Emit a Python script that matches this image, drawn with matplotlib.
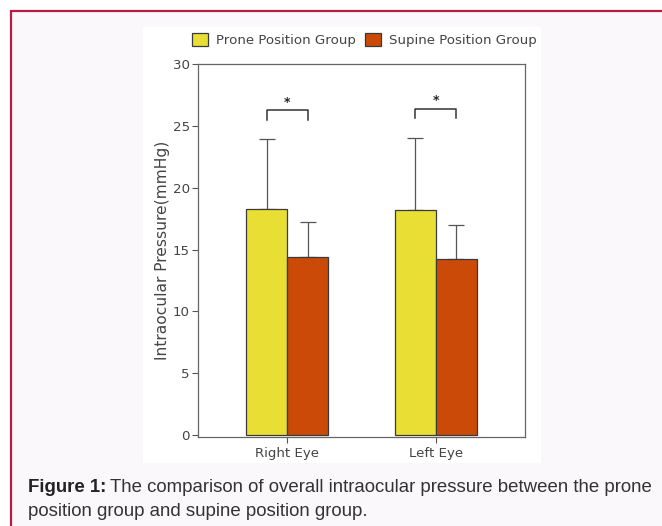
import numpy as np
import matplotlib
matplotlib.use('Agg')
import matplotlib.pyplot as plt
from matplotlib.patches import Rectangle

# data
eyes = ['Right Eye', 'Left Eye']
groups = ['Prone Position Group', 'Supine Position Group']
prone_mean = [18.3, 18.2]
prone_sd = [5.6, 5.8]
supine_mean = [14.4, 14.2]
supine_sd = [2.8, 2.8]
y_ticks = [0, 5, 10, 15, 20, 25, 30]

W, H = 662, 526
fig = plt.figure(figsize=(W / 100, H / 100), dpi=100)
fig.patch.set_facecolor('white')

# page background + crimson border (runs off the right and bottom edges)
fig.patches.append(Rectangle((11 / W, -0.1), 1, 1.1 - 11 / H, transform=fig.transFigure,
                             facecolor='#faf8fa', edgecolor='#b81c45', linewidth=1.6,
                             zorder=-2))
# white panel behind the chart
fig.patches.append(Rectangle((143 / W, 1 - 463 / H), (541 - 143) / W, (463 - 27) / H,
                             transform=fig.transFigure, facecolor='white',
                             edgecolor='none', zorder=-1))

ax = fig.add_axes([198 / W, 1 - 437 / H, (525 - 198) / W, (437 - 64) / H])
ax.set_facecolor('white')

txt = '#444444'
edge = '#3a3a3a'
c_prone = '#e9de33'
c_supine = '#cb4a08'

x = np.arange(len(eyes))
w = 0.275
b1 = ax.bar(x - w / 2, prone_mean, w, color=c_prone, edgecolor=edge, linewidth=0.9,
            label=groups[0], zorder=2)
b2 = ax.bar(x + w / 2, supine_mean, w, color=c_supine, edgecolor=edge, linewidth=0.9,
            label=groups[1], zorder=2)

for xs, m, s in [(x - w / 2, prone_mean, prone_sd), (x + w / 2, supine_mean, supine_sd)]:
    ax.errorbar(xs, m, yerr=[np.zeros(len(s)), s], fmt='none', ecolor='#555555',
                elinewidth=0.9, capsize=6, capthick=0.9, zorder=1)

# significance brackets
for i in range(len(eyes)):
    top = max(prone_mean[i] + prone_sd[i], supine_mean[i] + supine_sd[i])
    yb = top + 2.4
    ax.plot([x[i] - w / 2, x[i] - w / 2, x[i] + w / 2, x[i] + w / 2],
            [yb - 0.8, yb, yb, yb - 0.8], color='#333333', lw=1.1, zorder=3)
    ax.text(x[i], yb + 0.1, '*', ha='center', va='bottom', fontsize=9,
            fontweight='bold', color='#222222')

ax.set_xlim(-0.6, 1.6)
ax.set_ylim(-0.16, 30)
ax.set_yticks(y_ticks)
ax.set_xticks(x)
ax.set_xticklabels(eyes)
ax.tick_params(axis='both', colors='#555555', labelcolor=txt, labelsize=9.6,
               direction='out', length=4, width=0.8)
ax.tick_params(axis='x', pad=3)
ax.tick_params(axis='y', pad=2)
for sp in ax.spines.values():
    sp.set_color('#666666')
    sp.set_linewidth(0.9)
ax.set_ylabel('Intraocular Pressure(mmHg)', fontsize=11.2, color=txt, labelpad=2)

fig.legend(handles=[b1, b2], labels=groups, loc='center', ncol=2, frameon=False,
           bbox_to_anchor=((192 + 536) / 2 / W, 1 - 40 / H), fontsize=9.6,
           labelcolor=txt, handlelength=1.2, handleheight=1.1, handletextpad=0.6,
           columnspacing=0.7)

# caption
cap_font = 'Liberation Sans'
cap_size = 13.4
t1 = fig.text(28 / W, 1 - 488 / H, 'Figure 1:', fontsize=cap_size, fontweight='bold',
              family=cap_font, color='#222222', va='center')
fig.canvas.draw()
bb = t1.get_window_extent()
fig.text((bb.x1 + 4) / W, 1 - 488 / H,
         'The comparison of overall intraocular pressure between the prone',
         fontsize=cap_size, family=cap_font, color='#333333', va='center')
fig.text(28 / W, 1 - 511 / H, 'position group and supine position group.',
         fontsize=cap_size, family=cap_font, color='#333333', va='center')

fig.savefig('out.png', dpi=100)
